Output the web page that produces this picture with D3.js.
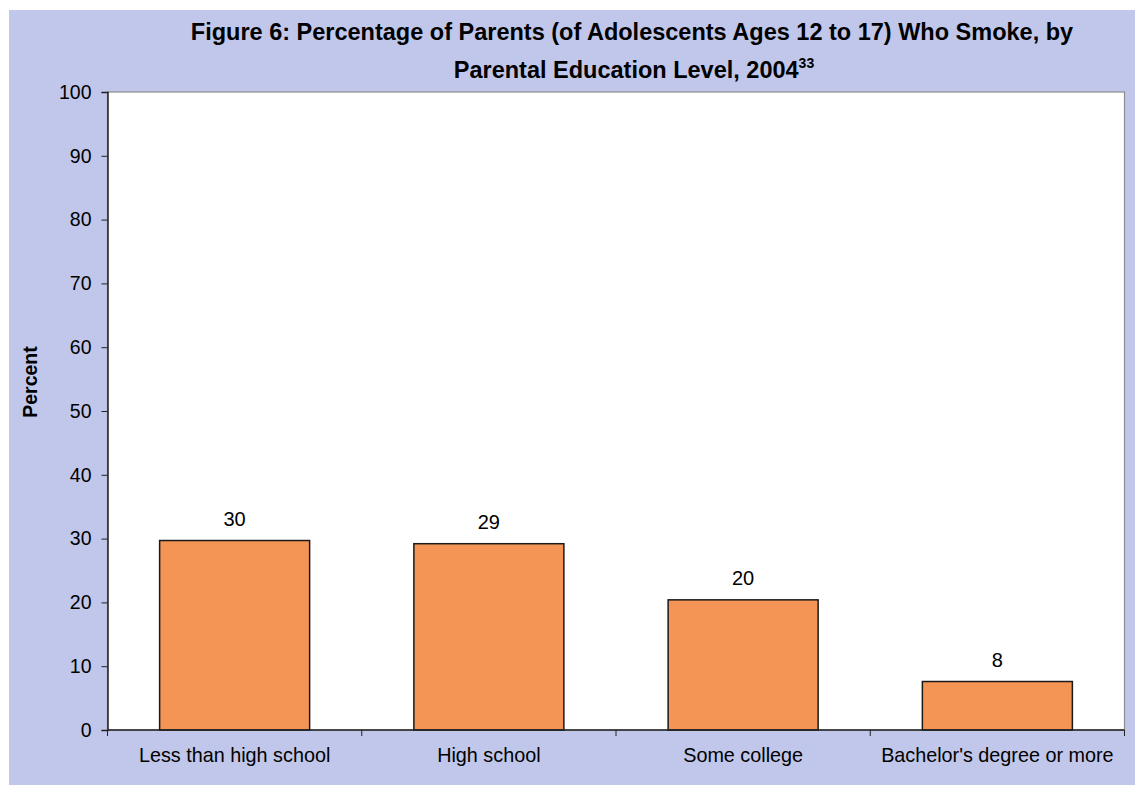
<!DOCTYPE html>
<html><head><meta charset="utf-8">
<script src="https://cdn.jsdelivr.net/npm/d3@7"></script>
<style>body{margin:0;background:#fff;}svg{display:block;font-family:Arial,"Liberation Sans",sans-serif;}</style>
</head><body>
<svg id="c" width="1135" height="785"></svg>
<script>
const categories = ["Less than high school", "High school", "Some college", "Bachelor's degree or more"];
const values = [29.7, 29.2, 20.4, 7.6];
const valueLabels = ["30", "29", "20", "8"];
const yTicks = [0, 10, 20, 30, 40, 50, 60, 70, 80, 90, 100];

const svg = d3.select("#c");
const m = {left: 107.5, top: 92, right: 1124.5, bottom: 730};

svg.append("rect").attr("x", 9).attr("y", 10).attr("width", 1126).attr("height", 775).attr("fill", "#c1c7ea");
svg.append("rect").attr("x", m.left).attr("y", m.top).attr("width", m.right - m.left).attr("height", m.bottom - m.top)
  .attr("fill", "#fff").attr("stroke", "#8c8c8c").attr("stroke-width", 1.2);

const x = d3.scaleBand().domain(categories).range([m.left, m.right]).paddingInner(0.41).paddingOuter(0.205);
const y = d3.scaleLinear().domain([0, 100]).range([m.bottom, m.top]);

svg.selectAll("rect.bar").data(categories).enter().append("rect").attr("class", "bar")
  .attr("x", d => x(d)).attr("width", x.bandwidth())
  .attr("y", (d, i) => y(values[i])).attr("height", (d, i) => y(0) - y(values[i]))
  .attr("fill", "#f59555").attr("stroke", "#1a1a1a").attr("stroke-width", 1.5);

svg.selectAll("text.vl").data(categories).enter().append("text").attr("class", "vl")
  .attr("x", d => x(d) + x.bandwidth() / 2).attr("y", (d, i) => y(values[i]) - 15)
  .attr("text-anchor", "middle").attr("font-size", 20).attr("fill", "#000")
  .text((d, i) => valueLabels[i]);

const yAxis = d3.axisLeft(y).tickValues(yTicks).tickSize(6).tickPadding(10);
const gy = svg.append("g").attr("transform", `translate(${m.left},0)`).call(yAxis);
gy.select(".domain").attr("stroke", "#222").attr("stroke-width", 1.5);
gy.selectAll(".tick line").attr("stroke", "#222");
gy.selectAll(".tick text").attr("font-size", 19.5).attr("fill", "#000").attr("font-family", "Arial, 'Liberation Sans', sans-serif");

// x axis: category boundary ticks
const xb = d3.scaleLinear().domain([0, categories.length]).range([m.left, m.right]);
const gx = svg.append("g").attr("transform", `translate(0,${m.bottom})`);
gx.append("line").attr("x1", m.left).attr("x2", m.right).attr("stroke", "#222").attr("stroke-width", 1.5);
gx.selectAll("line.t").data(d3.range(categories.length + 1)).enter().append("line").attr("class", "t")
  .attr("x1", d => xb(d)).attr("x2", d => xb(d)).attr("y1", 0).attr("y2", 6).attr("stroke", "#222");
gx.selectAll("text").data(categories).enter().append("text")
  .attr("x", d => x(d) + x.bandwidth() / 2).attr("y", 32)
  .attr("text-anchor", "middle").attr("font-size", 19.8).attr("fill", "#000").text(d => d);

svg.append("text").attr("transform", "translate(37,382) rotate(-90)")
  .attr("text-anchor", "middle").attr("font-size", 19.5).attr("font-weight", "bold").text("Percent");

const t = svg.append("text").attr("text-anchor", "middle").attr("font-size", 23.5).attr("font-weight", "bold");
t.append("tspan").attr("x", 632).attr("y", 40).text("Figure 6: Percentage of Parents (of Adolescents Ages 12 to 17) Who Smoke, by");
const t2 = svg.append("text").attr("text-anchor", "middle").attr("font-size", 23.5).attr("font-weight", "bold").attr("x", 634).attr("y", 78);
t2.append("tspan").text("Parental Education Level, 2004");
t2.append("tspan").attr("font-size", 14).attr("dy", -10).text("33");
</script>
</body></html>
